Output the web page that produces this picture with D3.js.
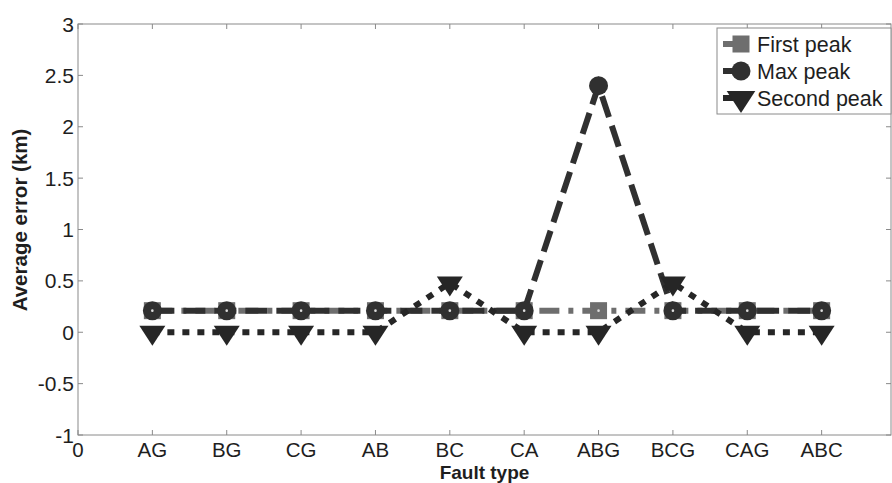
<!DOCTYPE html>
<html>
<head>
<meta charset="utf-8">
<script src="https://cdn.jsdelivr.net/npm/d3@7"></script>
<style>
  html, body { margin: 0; padding: 0; background: #fff; }
  svg { display: block; font-family: "Liberation Sans", Arial, sans-serif; }
</style>
</head>
<body>
<svg id="chart" width="892" height="483"></svg>
<script>
// Fault types along the x axis (positions 1..10; position 0 is labelled "0")
const faultTypes = ["AG", "BG", "CG", "AB", "BC", "CA", "ABG", "BCG", "CAG", "ABC"];

// Average location error (km) for each peak-detection method
const firstPeak  = [0.21, 0.21, 0.21, 0.21, 0.21, 0.21, 0.21, 0.21, 0.21, 0.21];
const maxPeak    = [0.21, 0.21, 0.21, 0.21, 0.21, 0.21, 2.40, 0.21, 0.21, 0.21];
const secondPeak = [0.00, 0.00, 0.00, 0.00, 0.48, 0.00, 0.00, 0.48, 0.00, 0.00];

const yTicks = [-1, -0.5, 0, 0.5, 1, 1.5, 2, 2.5, 3];
const yTickLabels = ["-1", "-0.5", "0", "0.5", "1", "1.5", "2", "2.5", "3"];
const seriesNames = ["First peak", "Max peak", "Second peak"];

const W = 892, H = 483;
const svg = d3.select("#chart");

const x = d3.scaleLinear().domain([0, 11]).range([78, 896]);
const y = d3.scaleLinear().domain([-1, 3]).range([435, 24]);
const plotLeft = 78, plotRight = W - 1, plotTop = y(3), plotBottom = y(-1);

const axisColor = "#8a8a8a";
const textColor = "#1e1e1e";

// plot frame
const frame = svg.append("g");
frame.append("rect")
  .attr("x", plotLeft).attr("y", plotTop)
  .attr("width", plotRight - plotLeft).attr("height", plotBottom - plotTop)
  .attr("fill", "none").attr("stroke", axisColor).attr("stroke-width", 1);

// inward ticks on all four sides
const xTickVals = d3.range(0, 11);
const tickLen = 5;
frame.selectAll(".xtb").data(xTickVals).join("line")
  .attr("x1", d => x(d)).attr("x2", d => x(d))
  .attr("y1", plotBottom).attr("y2", plotBottom - tickLen)
  .attr("stroke", axisColor);
frame.selectAll(".xtt").data(xTickVals).join("line")
  .attr("x1", d => x(d)).attr("x2", d => x(d))
  .attr("y1", plotTop).attr("y2", plotTop + tickLen)
  .attr("stroke", axisColor);
frame.selectAll(".ytl").data(yTicks).join("line")
  .attr("x1", plotLeft).attr("x2", plotLeft + tickLen)
  .attr("y1", d => y(d)).attr("y2", d => y(d))
  .attr("stroke", axisColor);
frame.selectAll(".ytr").data(yTicks).join("line")
  .attr("x1", plotRight).attr("x2", plotRight - tickLen)
  .attr("y1", d => y(d)).attr("y2", d => y(d))
  .attr("stroke", axisColor);

// tick labels
svg.append("g").selectAll("text").data(yTicks).join("text")
  .attr("x", plotLeft - 4).attr("y", d => y(d))
  .attr("dy", "0.36em")
  .attr("text-anchor", "end")
  .attr("font-size", 21).attr("fill", textColor)
  .text((d, i) => yTickLabels[i]);

const xLabels = ["0"].concat(faultTypes);
svg.append("g").selectAll("text").data(xTickVals).join("text")
  .attr("x", d => x(d)).attr("y", 457)
  .attr("text-anchor", "middle")
  .attr("font-size", 20.5).attr("fill", textColor)
  .text((d, i) => xLabels[i]);

// axis titles
svg.append("text")
  .attr("x", (plotLeft + plotRight) / 2).attr("y", 478.5)
  .attr("text-anchor", "middle")
  .attr("font-size", 19).attr("font-weight", "bold").attr("fill", textColor)
  .text("Fault type");
svg.append("text")
  .attr("transform", "translate(27, 220) rotate(-90)")
  .attr("text-anchor", "middle")
  .attr("font-size", 20.5).attr("font-weight", "bold").attr("fill", textColor)
  .text("Average error (km)");

// series styles
const styles = [
  { values: firstPeak,  color: "#6e6e6e", dash: "20,9,5,9", marker: "square" },
  { values: maxPeak,    color: "#303030", dash: "22,9",     marker: "circle" },
  { values: secondPeak, color: "#262626", dash: "7,8",      marker: "triangle" }
];

const line = d3.line().x((d, i) => x(i + 1)).y(d => y(d));

function drawMarker(g, kind, cx, cy, color, scale = 1) {
  if (kind === "square") {
    const s = 17 * scale;
    g.append("rect").attr("x", cx - s / 2).attr("y", cy - s / 2)
      .attr("width", s).attr("height", s).attr("fill", color);
  } else if (kind === "circle") {
    g.append("circle").attr("cx", cx).attr("cy", cy).attr("r", 9.5 * scale).attr("fill", color);
  } else {
    const w = 26 * scale, h = 20 * scale;
    g.append("path")
      .attr("d", `M${cx - w / 2},${cy - h * 0.32}L${cx + w / 2},${cy - h * 0.32}L${cx},${cy + h * 0.68}Z`)
      .attr("fill", color);
  }
}

const plotG = svg.append("g");
styles.forEach(s => {
  plotG.append("path").datum(s.values)
    .attr("d", line)
    .attr("fill", "none")
    .attr("stroke", s.color)
    .attr("stroke-width", 6)
    .attr("stroke-dasharray", s.dash)
    .attr("stroke-linecap", "butt");
  const mg = plotG.append("g");
  s.values.forEach((v, i) => drawMarker(mg, s.marker, x(i + 1), y(v), s.color));
});

// small highlight at the centre of the first-peak squares
plotG.append("g").selectAll("circle").data(firstPeak).join("circle")
  .attr("cx", (d, i) => x(i + 1)).attr("cy", d => y(d))
  .attr("r", 1.3).attr("fill", "#ddd");

// legend
const leg = svg.append("g");
leg.append("rect")
  .attr("x", 717).attr("y", 28).attr("width", 174).attr("height", 86)
  .attr("fill", "#fff").attr("stroke", axisColor).attr("stroke-width", 1);
const legRows = [44, 71, 98];
styles.forEach((s, i) => {
  const cy = legRows[i];
  leg.append("line")
    .attr("x1", 723).attr("x2", 740).attr("y1", cy).attr("y2", cy)
    .attr("stroke", s.color).attr("stroke-width", 6);
  drawMarker(leg, s.marker, 741, cy, s.color, i === 2 ? 1.1 : 1);
  leg.append("text")
    .attr("x", 757).attr("y", cy).attr("dy", "0.36em")
    .attr("font-size", 21.5).attr("fill", textColor)
    .text(seriesNames[i]);
});
</script>
</body>
</html>
